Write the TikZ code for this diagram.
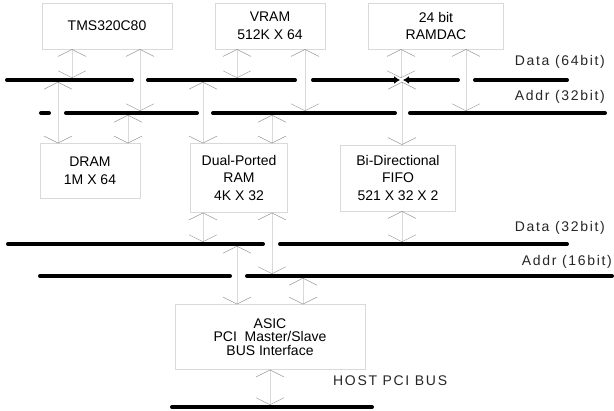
\documentclass[tikz,border=0pt]{standalone}
\usepackage{fontspec}
\setmainfont{Liberation Sans}
\usetikzlibrary{arrows.meta,positioning}

\begin{document}
\begin{tikzpicture}[x=1pt, y=-1pt,
        unit/.style={rectangle, draw=black!15, thin, align=center, inner sep=0pt, font=\fontsize{14}{17.5}\selectfont},
        bus/.style={line width=4pt, line cap=round},
        busarrow/.style={bus, -{Latex[length=6pt,width=8pt]}},
        link/.style={draw=black!15, thin, {Straight Barb[length=7pt,width=28pt,color=black!45]}-{Straight Barb[length=7pt,width=28pt,color=black!45]}},
        buslabel/.style={inner sep=0pt, text=black!85, font=\fontsize{14}{16}\selectfont\addfontfeature{LetterSpace=12}}]

        \useasboundingbox (0,0) rectangle (614,411);

        \node[unit, minimum width=130pt, minimum height=46pt] (tms) at (107,26) {TMS320C80};
        \node[unit, minimum width=110pt, minimum height=46pt] (vram) at (270,26) {VRAM\\512K X 64};
        \node[unit, minimum width=135pt, minimum height=46pt] (ramdac) at (436,26) {24 bit\\RAMDAC};
        \node[unit, minimum width=100pt, minimum height=55pt] (dram) at (90,171) {DRAM\\1M X 64};
        \node[unit, minimum width=97pt, minimum height=69pt] (dual) at (239,178) {Dual-Ported\\RAM\\4K X 32};
        \node[unit, minimum width=115pt, minimum height=66pt] (fifo) at (398,178) {Bi-Directional\\FIFO\\521 X 32 X 2};
        \node[unit, minimum width=190pt, minimum height=65pt, font=\fontsize{14}{13.5}\selectfont] (asic) at (270,337) {ASIC\\PCI~~Master/Slave\\BUS Interface};

        \draw[bus] (7,80) -- (132,80);
        \draw[bus] (148,80) -- (295,80);
        \draw[busarrow] (313,80) -- (400,80);
        \draw[busarrow] (458,80) -- (403,80);
        \draw[bus] (475,80) -- (567,80);
        \draw[bus] (41,113) -- (49,113);
        \draw[bus] (66,113) -- (197,113);
        \draw[bus] (213,113) -- (395,113);
        \draw[bus] (410,113) -- (605,113);
        \draw[bus] (8,244) -- (263,244);
        \draw[bus] (280,244) -- (567,244);
        \draw[bus] (40,276) -- (230,276);
        \draw[bus] (247,276) -- (612,276);
        \draw[bus] (172,407) -- (372,407);

        \node[buslabel, anchor=east] (d64) at (605,62) {Data (64bit)};
        \node[buslabel, anchor=east] (a32) at (605,97) {Addr (32bit)};
        \node[buslabel, anchor=east] (d32) at (605,228) {Data (32bit)};
        \node[buslabel, anchor=east] (a16) at (612,262) {Addr (16bit)};
        \node[buslabel, anchor=west] (host) at (333,381) {HOST PCI BUS};

        \coordinate (tmsD) at (72,78);
        \coordinate (tmsA) at (140,111);
        \coordinate (vramD) at (237,78);
        \coordinate (vramA) at (305,111);
        \coordinate (ramdacD) at (401,78);
        \coordinate (ramdacA) at (466,111);
        \coordinate (dramD) at (58,82);
        \coordinate (dramA) at (128,115);
        \coordinate (dualD) at (203,82);
        \coordinate (dualA) at (272,115);
        \coordinate (fifoD) at (402,82);
        \coordinate (dualLD) at (203,242);
        \coordinate (dualLA) at (272,274);
        \coordinate (fifoLD) at (402,242);
        \coordinate (asicD) at (237,246);
        \coordinate (asicA) at (303,278);
        \coordinate (asicH) at (270,405);

        \draw[link] (tms.south -| tmsD) -- (tmsD);
        \draw[link] (tms.south -| tmsA) -- (tmsA);
        \draw[link] (vram.south -| vramD) -- (vramD);
        \draw[link] (vram.south -| vramA) -- (vramA);
        \draw[link] (ramdac.south -| ramdacD) -- (ramdacD);
        \draw[link] (ramdac.south -| ramdacA) -- (ramdacA);
        \draw[link] (dram.north -| dramD) -- (dramD);
        \draw[link] (dram.north -| dramA) -- (dramA);
        \draw[link] (dual.north -| dualD) -- (dualD);
        \draw[link] (dual.north -| dualA) -- (dualA);
        \draw[link] (fifo.north -| fifoD) -- (fifoD);
        \draw[link] (dual.south -| dualLD) -- (dualLD);
        \draw[link] (dual.south -| dualLA) -- (dualLA);
        \draw[link] (fifo.south -| fifoLD) -- (fifoLD);
        \draw[link] (asic.north -| asicD) -- (asicD);
        \draw[link] (asic.north -| asicA) -- (asicA);
        \draw[link] (asic.south -| asicH) -- (asicH);

    \end{tikzpicture}
\end{document}
